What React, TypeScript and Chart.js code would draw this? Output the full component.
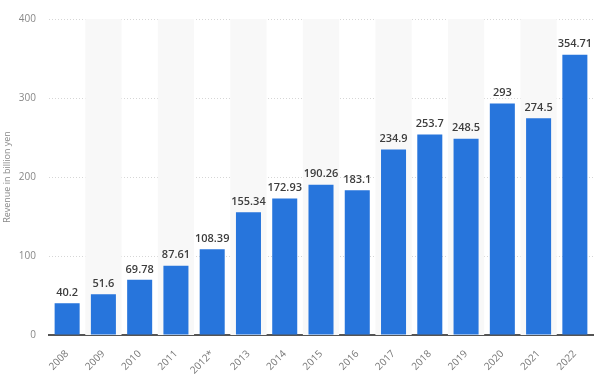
import React, { useEffect, useRef } from "react";
import { Chart, registerables } from "chart.js";

Chart.register(...registerables);

const years = ["2008", "2009", "2010", "2011", "2012*", "2013", "2014", "2015", "2016", "2017", "2018", "2019", "2020", "2021", "2022"];
const revenue = [40.2, 51.6, 69.78, 87.61, 108.39, 155.34, 172.93, 190.26, 183.1, 234.9, 253.7, 248.5, 293, 274.5, 354.71];
const yTicks = [0, 100, 200, 300, 400];
const yTitle = "Revenue in billion yen";

const FONT = "'Open Sans', 'DejaVu Sans', sans-serif";

const bandsPlugin = {
  id: "bands",
  beforeDatasetsDraw(chart: any) {
    const { ctx, chartArea, scales } = chart;
    const x = scales.x;
    const n = years.length;
    const w = (chartArea.right - chartArea.left) / n;
    ctx.save();
    ctx.fillStyle = "#f8f8f8";
    for (let i = 1; i < n; i += 2) {
      const cx = x.getPixelForValue(i);
      ctx.fillRect(cx - w / 2, chartArea.top, w, chartArea.bottom - chartArea.top);
    }
    ctx.restore();
  },
};

const labelsPlugin = {
  id: "valueLabels",
  afterDatasetsDraw(chart: any) {
    const { ctx } = chart;
    const meta = chart.getDatasetMeta(0);
    ctx.save();
    ctx.font = `600 11px ${FONT}`;
    ctx.fillStyle = "#3d3d3d";
    ctx.textAlign = "center";
    ctx.textBaseline = "bottom";
    meta.data.forEach((bar: any, i: number) => {
      ctx.fillText(String(revenue[i]), bar.x, bar.y - 5);
    });
    ctx.restore();
  },
};

export default function App() {
  const ref = useRef<HTMLCanvasElement>(null);
  useEffect(() => {
    document.body.style.margin = "0";
    const chart = new Chart(ref.current!, {
      type: "bar",
      data: {
        labels: years,
        datasets: [
          {
            data: revenue,
            backgroundColor: "#2775dc",
            borderWidth: 0,
            categoryPercentage: 1,
            barPercentage: 0.69,
          },
        ],
      },
      options: {
        responsive: false,
        animation: false,
        layout: { padding: { top: 17, right: 7, left: 0, bottom: 0 } },
        plugins: { legend: { display: false }, tooltip: { enabled: false } },
        scales: {
          x: {
            grid: { display: false },
            border: { color: "#555", width: 2 },
            ticks: {
              color: "#777",
              font: { family: FONT, size: 10 },
              minRotation: 45,
              maxRotation: 45,
              padding: 5,
            },
            afterFit(scale: any) {
              scale.height = 47;
            },
          },
          y: {
            min: 0,
            max: 400,
            afterBuildTicks(scale: any) {
              scale.ticks = yTicks.map((v) => ({ value: v }));
            },
            grid: {
              color: "#d6d6d6",
              drawTicks: false,
            },
            border: { display: false, dash: [1, 2] },
            ticks: {
              color: "#888",
              font: { family: FONT, size: 10 },
              padding: 13,
            },
            title: {
              display: true,
              text: yTitle,
              color: "#888",
              font: { family: FONT, size: 9 },
              padding: { top: 2, bottom: 4 },
            },
            afterFit(scale: any) {
              scale.width = 49;
            },
          },
        },
      },
      plugins: [bandsPlugin, labelsPlugin],
    });
    return () => chart.destroy();
  }, []);
  return (
    <div style={{ width: 600, height: 382 }}>
      <canvas ref={ref} width={600} height={382} />
    </div>
  );
}
